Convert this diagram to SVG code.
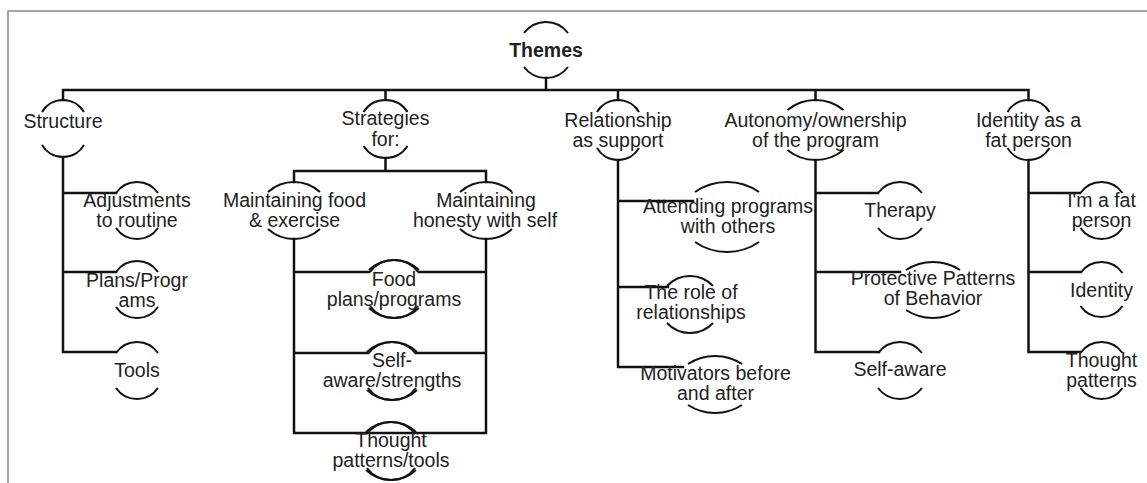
<svg xmlns="http://www.w3.org/2000/svg" width="1147" height="483" viewBox="0 0 1147 483">
<style>
.bg{fill:#fff}
.frame{stroke:#8a8a8a;stroke-width:1.5;fill:none}
.arc{stroke:#111;stroke-width:2;fill:none}
.con{stroke:#111;stroke-width:2.5;fill:none;stroke-linecap:square}
text{font-family:"Liberation Sans",Arial,sans-serif;font-size:19.5px;fill:#222;text-anchor:middle}
.bold{font-weight:bold}
</style>
<rect class="bg" width="1147" height="483"/>
<path class="frame" d="M8,483 V11 H1147"/>
<g id="connectors">
<path class="con" d="M546,78 V90 M63,90 H1028.5 M63,90 V100 M385.5,90 V100 M618,90 V100 M815.5,90 V100 M1028.5,90 V100"/>
<path class="con" d="M63,157 V352 M63,193 H116 M63,272 H116 M63,352 H116"/>
<path class="con" d="M385.5,158 V171 M294,171 H486 M294,171 V182 M486,171 V182 M294,239 V433 H486 V239 M294,272 H369 M419,272 H486 M294,353 H367 M417,353 H486"/>
<path class="con" d="M618,160 V367 M618,201 H693 M618,287 H668 M618,367 H683"/>
<path class="con" d="M815.5,160 V352 M815.5,193 H878 M815.5,272 H900 M815.5,352 H879"/>
<path class="con" d="M1028.5,160 V352 M1028.5,193 H1080 M1028.5,272 H1080 M1028.5,352 H1080"/>
</g>
<g id="themes">
<path class="arc" d="M524,33 A27.5 27.5 0 0 1 568,33 M524,67 A27.5 27.5 0 0 0 568,67"/>
<text class="bold" x="546" y="57">Themes</text>
</g>
<g id="structure">
<path class="arc" d="M42,112 A24.4 24.4 0 0 1 84,112 M42,145 A24.4 24.4 0 0 0 84,145"/>
<text x="63" y="128">Structure</text>
</g>
<g id="strategies">
<path class="arc" d="M363.5,112 A26.2 26.2 0 0 1 407.5,112 M363.5,146 A26.2 26.2 0 0 0 407.5,146"/>
<text x="385.5" y="125">Strategies</text>
<text x="385.5" y="146">for:</text>
</g>
<g id="relationship">
<path class="arc" d="M597,112 A24.4 24.4 0 0 1 639,112 M597,148 A24.4 24.4 0 0 0 639,148"/>
<text x="618" y="127">Relationship</text>
<text x="618" y="147">as support</text>
</g>
<g id="autonomy">
<path class="arc" d="M787.5,110 A44.2 44.2 0 0 1 843.5,110 M787.5,150 A44.2 44.2 0 0 0 843.5,150"/>
<text x="815.5" y="127">Autonomy/ownership</text>
<text x="815.5" y="147">of the program</text>
</g>
<g id="identity-fat">
<path class="arc" d="M1007.5,112 A24.4 24.4 0 0 1 1049.5,112 M1007.5,148 A24.4 24.4 0 0 0 1049.5,148"/>
<text x="1028.5" y="127">Identity as a</text>
<text x="1028.5" y="147">fat person</text>
</g>
<g id="adjustments">
<path class="arc" d="M116,193 A25.5 25.5 0 0 1 158,193 M116,228 A25.5 25.5 0 0 0 158,228"/>
<text x="137" y="207">Adjustments</text>
<text x="137" y="227">to routine</text>
</g>
<g id="plans">
<path class="arc" d="M116,272 A25.5 25.5 0 0 1 158,272 M116,307 A25.5 25.5 0 0 0 158,307"/>
<text x="137" y="287">Plans/Progr</text>
<text x="137" y="307">ams</text>
</g>
<g id="tools">
<path class="arc" d="M116,353 A25.5 25.5 0 0 1 158,353 M116,388 A25.5 25.5 0 0 0 158,388"/>
<text x="137" y="377">Tools</text>
</g>
<g id="maint-food">
<path class="arc" d="M268,192 A38.8 38.8 0 0 1 320,192 M268,229 A38.8 38.8 0 0 0 320,229"/>
<text x="294.5" y="207">Maintaining food</text>
<text x="294.5" y="227">&amp; exercise</text>
</g>
<g id="maint-honesty">
<path class="arc" d="M460,192 A38.8 38.8 0 0 1 512,192 M460,229 A38.8 38.8 0 0 0 512,229"/>
<text x="486" y="207">Maintaining</text>
<text x="485" y="227">honesty with self</text>
</g>
<g id="food-plans">
<path class="arc" d="M369,270 A36.25 36.25 0 0 1 419,270 M369,308 A36.25 36.25 0 0 0 419,308"/>
<path class="arc" d="M370,272 A30 30 0 0 1 418,272 M370,306 A30 30 0 0 0 418,306"/>
<text x="394" y="286">Food</text>
<text x="394" y="306">plans/programs</text>
</g>
<g id="self-aware-strengths">
<path class="arc" d="M367,352 A36.25 36.25 0 0 1 417,352 M367,390 A36.25 36.25 0 0 0 417,390"/>
<path class="arc" d="M368,354 A30 30 0 0 1 416,354 M368,388 A30 30 0 0 0 416,388"/>
<text x="392" y="367">Self-</text>
<text x="392" y="387">aware/strengths</text>
</g>
<g id="thought-tools">
<path class="arc" d="M366,432 A36.25 36.25 0 0 1 416,432 M366,470 A36.25 36.25 0 0 0 416,470"/>
<path class="arc" d="M367,434 A30 30 0 0 1 415,434 M367,468 A30 30 0 0 0 415,468"/>
<text x="391" y="447">Thought</text>
<text x="391" y="467">patterns/tools</text>
</g>
<g id="attending">
<path class="arc" d="M695,192 A56.2 56.2 0 0 1 759,192 M695,242 A56.2 56.2 0 0 0 759,242"/>
<text x="728" y="213">Attending programs</text>
<text x="728" y="233">with others</text>
</g>
<g id="role">
<path class="arc" d="M667,286 A31.45 31.45 0 0 1 713,286 M667,323 A31.45 31.45 0 0 0 713,323"/>
<text x="691" y="299">The role of</text>
<text x="691" y="319">relationships</text>
</g>
<g id="motivators">
<path class="arc" d="M688,364 A49.6 49.6 0 0 1 742,364 M688,405 A49.6 49.6 0 0 0 742,405"/>
<text x="715.5" y="380">Motivators before</text>
<text x="715.5" y="400">and after</text>
</g>
<g id="therapy">
<path class="arc" d="M878,193 A27.5 27.5 0 0 1 922,193 M878,228 A27.5 27.5 0 0 0 922,228"/>
<text x="900" y="217">Therapy</text>
</g>
<g id="protective">
<path class="arc" d="M906,270 A49.6 49.6 0 0 1 960,270 M906,310 A49.6 49.6 0 0 0 960,310"/>
<text x="933" y="285">Protective Patterns</text>
<text x="933" y="305">of Behavior</text>
</g>
<g id="self-aware">
<path class="arc" d="M878,353 A27.5 27.5 0 0 1 922,353 M878,388 A27.5 27.5 0 0 0 922,388"/>
<text x="900" y="376">Self-aware</text>
</g>
<g id="fat-person">
<path class="arc" d="M1080.5,193 A25.5 25.5 0 0 1 1122.5,193 M1080.5,228 A25.5 25.5 0 0 0 1122.5,228"/>
<text x="1101.5" y="207">I'm a fat</text>
<text x="1101.5" y="227">person</text>
</g>
<g id="identity">
<path class="arc" d="M1080.5,273 A25.5 25.5 0 0 1 1122.5,273 M1080.5,306 A25.5 25.5 0 0 0 1122.5,306"/>
<text x="1101.5" y="297">Identity</text>
</g>
<g id="thought-patterns">
<path class="arc" d="M1080.5,353 A25.5 25.5 0 0 1 1122.5,353 M1080.5,388 A25.5 25.5 0 0 0 1122.5,388"/>
<text x="1101.5" y="367">Thought</text>
<text x="1101.5" y="387">patterns</text>
</g>
</svg>
